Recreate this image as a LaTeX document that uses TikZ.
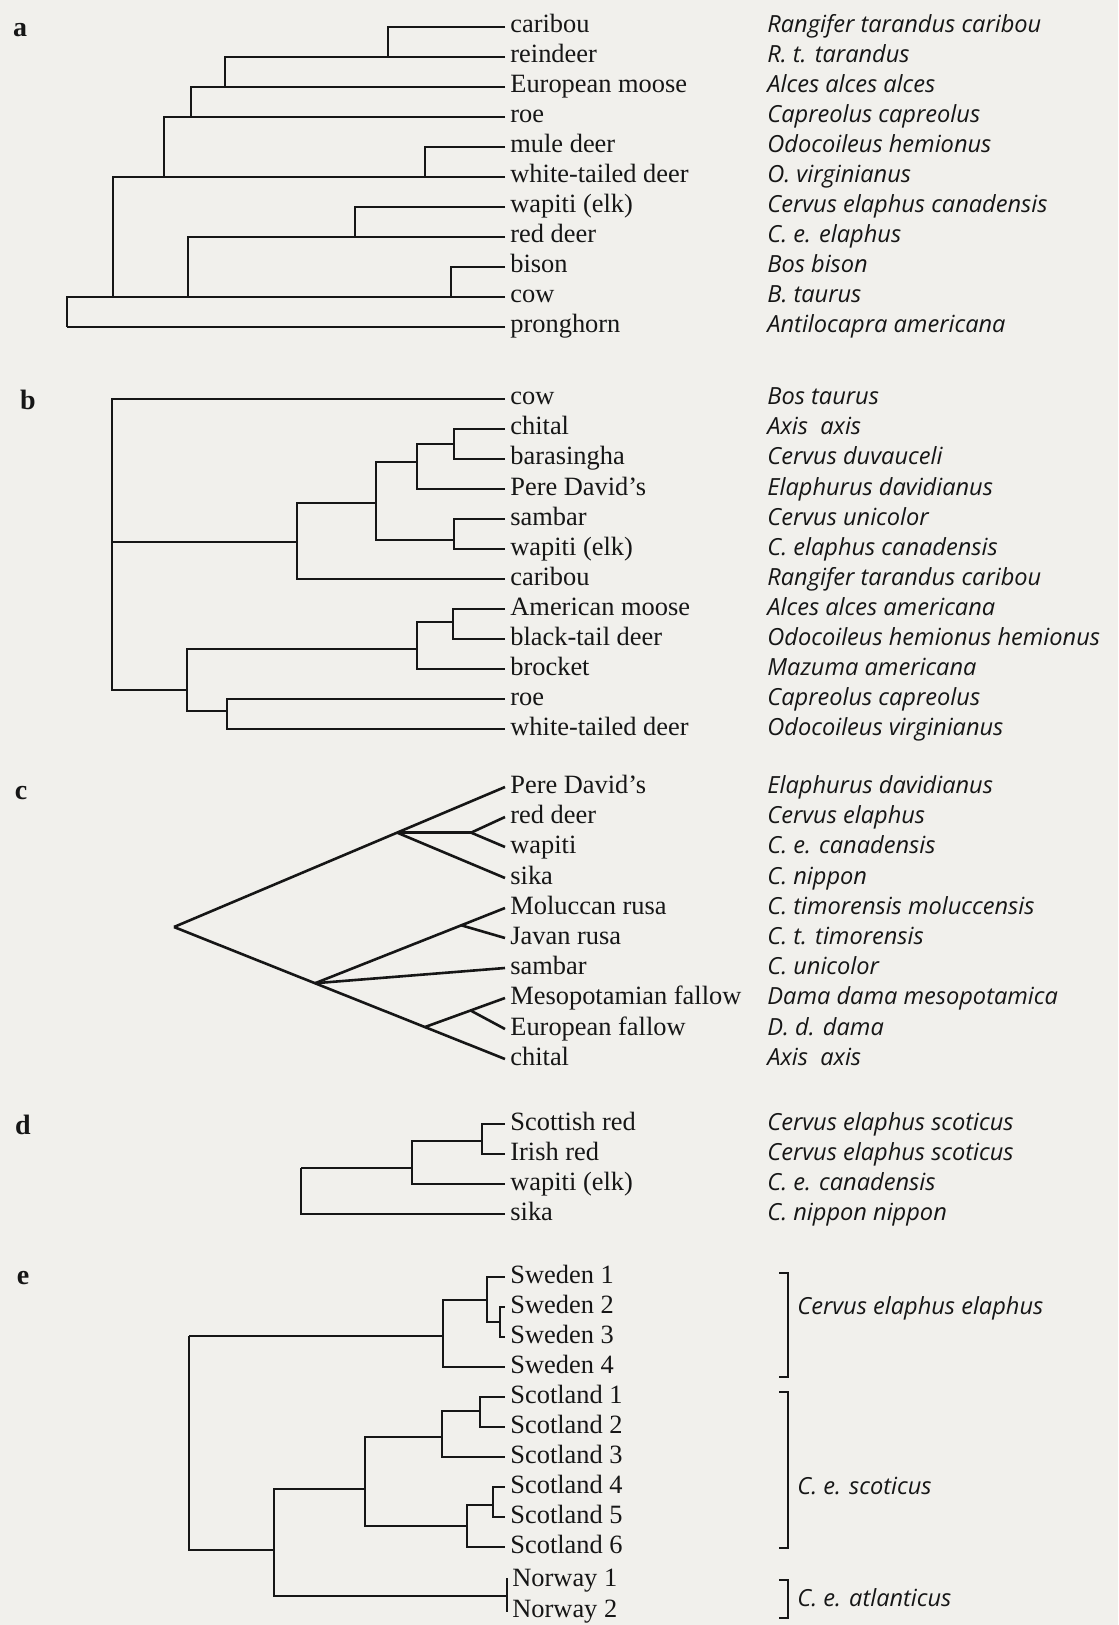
\documentclass[tikz,border=0pt]{standalone}
\usepackage{fontspec}
\setmainfont{Liberation Serif}
\newfontfamily\latinfont{Open Sans}
\usetikzlibrary{calc}
\definecolor{paper}{RGB}{241,240,236}
\definecolor{ink}{RGB}{22,22,22}

\begin{document}
\begin{tikzpicture}[x=0.5pt,y=-0.5pt,
      branch/.style={line width=1.3pt,ink},
      lbl/.style={anchor=west,inner xsep=2.5pt,inner ysep=0pt,text height=6pt,text depth=0pt,
         font=\fontsize{13.2}{15}\selectfont,text=ink},
      sp/.style={lbl,inner xsep=0pt,font=\latinfont\itshape\fontsize{11.8}{14}\selectfont},
      panel/.style={inner sep=0pt,font=\bfseries\fontsize{14}{16}\selectfont,text=ink}]
   \fill[paper] (0,0) rectangle (1118,1625);
   \useasboundingbox (0,0) rectangle (1118,1625);

   % a
   \node[panel] (pa) at (20,30) {a};
   \node[lbl] (la0) at (505,27) {caribou};
   \node[lbl] (la1) at (505,57) {reindeer};
   \node[lbl] (la2) at (505,87) {European moose};
   \node[lbl] (la3) at (505,117) {roe};
   \node[lbl] (la4) at (505,147) {mule deer};
   \node[lbl] (la5) at (505,177) {white-tailed deer};
   \node[lbl] (la6) at (505,207) {wapiti (elk)};
   \node[lbl] (la7) at (505,237) {red deer};
   \node[lbl] (la8) at (505,267) {bison};
   \node[lbl] (la9) at (505,297) {cow};
   \node[lbl] (la10) at (505,327) {pronghorn};

   \node[sp] (sa0) at (767,27) {Rangifer tarandus caribou};
   \node[sp] (sa1) at (767,57) {R. t. tarandus};
   \node[sp] (sa2) at (767,87) {Alces alces alces};
   \node[sp] (sa3) at (767,117) {Capreolus capreolus};
   \node[sp] (sa4) at (767,147) {Odocoileus hemionus};
   \node[sp] (sa5) at (767,177) {O. virginianus};
   \node[sp] (sa6) at (767,207) {Cervus elaphus canadensis};
   \node[sp] (sa7) at (767,237) {C. e. elaphus};
   \node[sp] (sa8) at (767,267) {Bos bison};
   \node[sp] (sa9) at (767,297) {B. taurus};
   \node[sp] (sa10) at (767,327) {Antilocapra americana};

   \coordinate (na1) at (388,57);
   \coordinate (na2) at (225,87);
   \coordinate (na3) at (191,117);
   \coordinate (na4) at (164,177);
   \coordinate (na5) at (113,297);
   \coordinate (na6) at (425,177);
   \coordinate (na7) at (355,237);
   \coordinate (na8) at (188,297);
   \coordinate (na9) at (451,297);
   \coordinate (na0) at (67,327);

   \draw[branch] (la0.west) -| (na1);
   \draw[branch] (la1.west) -| (na2);
   \draw[branch] (la2.west) -| (na3);
   \draw[branch] (la3.west) -| (na4);
   \draw[branch] (la4.west) -| (na6);
   \draw[branch] (la5.west) -| (na5);
   \draw[branch] (la6.west) -| (na7);
   \draw[branch] (la7.west) -| (na8);
   \draw[branch] (la8.west) -| (na9);
   \draw[branch] (la9.west) -| (na0);
   \draw[branch] (la10.west) -- (na0);

   % b
   \node[panel] (pb) at (28,400) {b};
   \node[lbl] (lb0) at (505,399) {cow};
   \node[lbl] (lb1) at (505,429) {chital};
   \node[lbl] (lb2) at (505,459) {barasingha};
   \node[lbl] (lb3) at (505,489) {Pere David's};
   \node[lbl] (lb4) at (505,519) {sambar};
   \node[lbl] (lb5) at (505,549) {wapiti (elk)};
   \node[lbl] (lb6) at (505,579) {caribou};
   \node[lbl] (lb7) at (505,609) {American moose};
   \node[lbl] (lb8) at (505,639) {black-tail deer};
   \node[lbl] (lb9) at (505,669) {brocket};
   \node[lbl] (lb10) at (505,699) {roe};
   \node[lbl] (lb11) at (505,729) {white-tailed deer};

   \node[sp] (sb0) at (767,399) {Bos taurus};
   \node[sp] (sb1) at (767,429) {Axis\ \ axis};
   \node[sp] (sb2) at (767,459) {Cervus duvauceli};
   \node[sp] (sb3) at (767,489) {Elaphurus davidianus};
   \node[sp] (sb4) at (767,519) {Cervus unicolor};
   \node[sp] (sb5) at (767,549) {C. elaphus canadensis};
   \node[sp] (sb6) at (767,579) {Rangifer tarandus caribou};
   \node[sp] (sb7) at (767,609) {Alces alces americana};
   \node[sp] (sb8) at (767,639) {Odocoileus hemionus hemionus};
   \node[sp] (sb9) at (767,669) {Mazuma americana};
   \node[sp] (sb10) at (767,699) {Capreolus capreolus};
   \node[sp] (sb11) at (767,729) {Odocoileus virginianus};

   \coordinate (nb0) at (112,542);
   \coordinate (nb1) at (297,542);
   \coordinate (nb2) at (376,503);
   \coordinate (nb3) at (417,462);
   \coordinate (nb4) at (454,444);
   \coordinate (nb5) at (454,540);
   \coordinate (nb6) at (187,690);
   \coordinate (nb7) at (417,649);
   \coordinate (nb8) at (453,622);
   \coordinate (nb9) at (227,711);

   \draw[branch] (nb0) |- (lb0.west);
   \draw[branch] (nb0) -- (nb1);
   \draw[branch] (nb0) |- (nb6);
   \draw[branch] (nb1) |- (nb2);
   \draw[branch] (nb1) |- (lb6.west);
   \draw[branch] (nb2) |- (nb3);
   \draw[branch] (nb2) |- (nb5);
   \draw[branch] (nb3) |- (nb4);
   \draw[branch] (nb3) |- (lb3.west);
   \draw[branch] (nb4) |- (lb1.west);
   \draw[branch] (nb4) |- (lb2.west);
   \draw[branch] (nb5) |- (lb4.west);
   \draw[branch] (nb5) |- (lb5.west);
   \draw[branch] (nb6) |- (nb7);
   \draw[branch] (nb6) |- (nb9);
   \draw[branch] (nb7) |- (nb8);
   \draw[branch] (nb7) |- (lb9.west);
   \draw[branch] (nb8) |- (lb7.west);
   \draw[branch] (nb8) |- (lb8.west);
   \draw[branch] (nb9) |- (lb10.west);
   \draw[branch] (nb9) |- (lb11.west);

   % c
   \node[panel] (pc) at (21,793) {c};
   \node[lbl] (lc0) at (505,787) {Pere David's};
   \node[lbl] (lc1) at (505,817) {red deer};
   \node[lbl] (lc2) at (505,847) {wapiti};
   \node[lbl] (lc3) at (505,878) {sika};
   \node[lbl] (lc4) at (505,908) {Moluccan rusa};
   \node[lbl] (lc5) at (505,938) {Javan rusa};
   \node[lbl] (lc6) at (505,968) {sambar};
   \node[lbl] (lc7) at (505,998) {Mesopotamian fallow};
   \node[lbl] (lc8) at (505,1029) {European fallow};
   \node[lbl] (lc9) at (505,1059) {chital};

   \node[sp] (sc0) at (767,787) {Elaphurus davidianus};
   \node[sp] (sc1) at (767,817) {Cervus elaphus};
   \node[sp] (sc2) at (767,847) {C. e. canadensis};
   \node[sp] (sc3) at (767,878) {C. nippon};
   \node[sp] (sc4) at (767,908) {C. timorensis moluccensis};
   \node[sp] (sc5) at (767,938) {C. t. timorensis};
   \node[sp] (sc6) at (767,968) {C. unicolor};
   \node[sp] (sc7) at (767,998) {Dama dama mesopotamica};
   \node[sp] (sc8) at (767,1029) {D. d. dama};
   \node[sp] (sc9) at (767,1059) {Axis\ \ axis};

   \coordinate (nc0) at (174,927);
   \coordinate (nc1) at ($(nc0)!0.674!(lc0.west)$);
   \coordinate (nc2) at ($(nc1)+(74,0)$);
   \coordinate (nc3) at ($(nc0)!0.426!(lc9.west)$);
   \coordinate (nc4) at ($(nc3)!0.77!(lc4.west)$);
   \coordinate (nc5) at ($(nc0)!0.758!(lc9.west)$);
   \coordinate (nc6) at ($(nc5)!0.57!(lc7.west)$);

   \draw[branch] (nc0) -- (lc0.west);
   \draw[branch] (nc0) -- (lc9.west);
   \draw[branch] (nc1) -- (nc2);
   \draw[branch] (nc2) -- (lc1.west);
   \draw[branch] (nc2) -- (lc2.west);
   \draw[branch] (nc1) -- (lc3.west);
   \draw[branch] (nc3) -- (lc4.west);
   \draw[branch] (nc4) -- (lc5.west);
   \draw[branch] (nc3) -- (lc6.west);
   \draw[branch] (nc5) -- (lc7.west);
   \draw[branch] (nc6) -- (lc8.west);

   % d
   \node[panel] (pd) at (23,1125) {d};
   \node[lbl] (ld0) at (505,1124) {Scottish red};
   \node[lbl] (ld1) at (505,1154) {Irish red};
   \node[lbl] (ld2) at (505,1184) {wapiti (elk)};
   \node[lbl] (ld3) at (505,1214) {sika};

   \node[sp] (sd0) at (767,1124) {Cervus elaphus scoticus};
   \node[sp] (sd1) at (767,1154) {Cervus elaphus scoticus};
   \node[sp] (sd2) at (767,1184) {C. e. canadensis};
   \node[sp] (sd3) at (767,1214) {C. nippon nippon};

   \coordinate (nd0) at (301,1168);
   \coordinate (nd1) at (412,1168);
   \coordinate (nd2) at (482,1141);

   \draw[branch] (nd0) -- (nd1);
   \draw[branch] (nd0) |- (ld3.west);
   \draw[branch] (nd1) |- (nd2);
   \draw[branch] (nd1) |- (ld2.west);
   \draw[branch] (nd2) |- (ld0.west);
   \draw[branch] (nd2) |- (ld1.west);

   % e
   \node[panel] (pe) at (23,1278) {e};
   \node[lbl] (le0) at (505,1277) {Sweden 1};
   \node[lbl] (le1) at (505,1307) {Sweden 2};
   \node[lbl] (le2) at (505,1337) {Sweden 3};
   \node[lbl] (le3) at (505,1367) {Sweden 4};
   \node[lbl] (le4) at (505,1397) {Scotland 1};
   \node[lbl] (le5) at (505,1427) {Scotland 2};
   \node[lbl] (le6) at (505,1457) {Scotland 3};
   \node[lbl] (le7) at (505,1487) {Scotland 4};
   \node[lbl] (le8) at (505,1517) {Scotland 5};
   \node[lbl] (le9) at (505,1547) {Scotland 6};
   \node[lbl] (le10) at (507,1580) {Norway 1};
   \node[lbl] (le11) at (507,1611) {Norway 2};

   \node[sp] (se0) at (797,1308) {Cervus elaphus elaphus};
   \node[sp] (se1) at (797,1488) {C. e. scoticus};
   \node[sp] (se2) at (797,1600) {C. e. atlanticus};

   \coordinate (ne0) at (189,1336);
   \coordinate (ne1) at (443,1336);
   \coordinate (ne2) at (487,1300);
   \coordinate (ne3) at (500,1322);
   \coordinate (ne4) at (274,1550);
   \coordinate (ne5) at (365,1489);
   \coordinate (ne6) at (442,1437);
   \coordinate (ne7) at (480,1411);
   \coordinate (ne8) at (467,1526);
   \coordinate (ne9) at (493,1505);
   \coordinate (ne10) at (507,1596);

   \draw[branch] (ne0) -- (ne1);
   \draw[branch] (ne0) |- (ne4);
   \draw[branch] (ne1) |- (ne2);
   \draw[branch] (ne1) |- (le3.west);
   \draw[branch] (ne2) |- (le0.west);
   \draw[branch] (ne2) |- (ne3);
   \draw[branch] (ne3) |- (le1.west);
   \draw[branch] (ne3) |- (le2.west);
   \draw[branch] (ne4) |- (ne5);
   \draw[branch] (ne4) |- (ne10);
   \draw[branch] (ne5) |- (ne6);
   \draw[branch] (ne5) |- (ne8);
   \draw[branch] (ne6) |- (ne7);
   \draw[branch] (ne6) |- (le6.west);
   \draw[branch] (ne7) |- (le4.west);
   \draw[branch] (ne7) |- (le5.west);
   \draw[branch] (ne8) |- (ne9);
   \draw[branch] (ne8) |- (le9.west);
   \draw[branch] (ne9) |- (le7.west);
   \draw[branch] (ne9) |- (le8.west);
   \draw[branch] ($(le10.west)+(0,-2)$) -- ($(le11.west)+(0,1)$);

   \draw[branch] (779,1273) -| (788,1377) -- (779,1377);
   \draw[branch] (779,1392) -| (788,1548) -- (779,1548);
   \draw[branch] (779,1580) -| (788,1618) -- (779,1618);
\end{tikzpicture}
\end{document}
